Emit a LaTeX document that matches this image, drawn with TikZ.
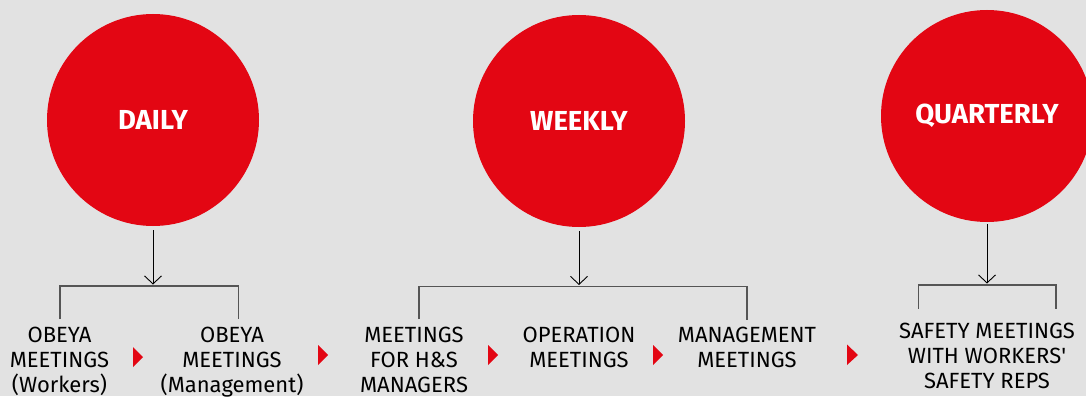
\documentclass[tikz,border=0pt]{standalone}
\usepackage{fontspec}
\setmainfont{Fira Sans}
\usepackage{xcolor}
\usetikzlibrary{arrows.meta,positioning}
\definecolor{meetred}{HTML}{E30613}
\definecolor{meetbg}{HTML}{E2E2E2}
\definecolor{meetgray}{HTML}{555555}

\begin{document}
\begin{tikzpicture}[
  x=1pt,y=-1pt,
  freq/.style={circle,fill=meetred,minimum size=212pt,inner sep=0pt,text=white,font=\fontsize{27.5}{30}\selectfont\bfseries},
  meet/.style={align=center,anchor=base,inner sep=0pt,font=\fontsize{22}{25}\selectfont},
  arr/.style={-{Straight Barb[length=8pt,width=17pt]},line width=0.9pt,shorten >=1.5pt},
  brk/.style={draw=meetgray,line width=1.3pt},
  tri/.style={fill=meetred}
]
\fill[meetbg] (0,0) rectangle (1086,396);
\useasboundingbox (0,0) rectangle (1086,396);
\node[freq] (daily) at (153,120) {DAILY};
\node[freq] (weekly) at (579,121) {WEEKLY};
\node[freq] (quarterly) at (987,116) {QUARTERLY};
\node[meet] (obw) at (59.5,392) {OBEYA\\MEETINGS\\(Workers)};
\node[meet] (obm) at (232,392) {OBEYA\\MEETINGS\\(Management)};
\node[meet] (hs) at (414,392) {MEETINGS\\FOR H\&S\\MANAGERS};
\node[meet] (op) at (579,367) {OPERATION\\MEETINGS};
\node[meet] (mgmt) at (747,367) {MANAGEMENT\\MEETINGS};
\node[meet] (reps) at (987,388) {SAFETY MEETINGS\\WITH WORKERS\textquotesingle\\SAFETY REPS};
\coordinate (dailyJ) at (153,286);
\coordinate (dailyL) at (60,319);
\coordinate (dailyR) at (238.5,319);
\coordinate (weeklyJ) at (579,286.5);
\coordinate (weeklyL) at (419,319);
\coordinate (weeklyR) at (747,319.5);
\coordinate (quarterlyJ) at (987,285);
\coordinate (quarterlyL) at (918.5,308.5);
\coordinate (quarterlyR) at (1056,308.5);
\draw[brk] (dailyL) |- (dailyJ) -| (dailyR);
\draw[brk] (weeklyL) |- (weeklyJ) -| (weeklyR);
\draw[brk] (quarterlyL) |- (quarterlyJ) -| (quarterlyR);
\draw[arr] ([yshift=-4pt]daily.south) -- (dailyJ);
\draw[arr] ([yshift=-4pt]weekly.south) -- (weeklyJ);
\draw[arr] ([yshift=-2pt]quarterly.south) -- (quarterlyJ);
\fill[tri] (133,347) -- (143,357) -- (133,367) -- cycle;
\fill[tri] (318,345) -- (328,355) -- (318,365) -- cycle;
\fill[tri] (488,345) -- (498,355) -- (488,365) -- cycle;
\fill[tri] (653,345) -- (663,355) -- (653,365) -- cycle;
\fill[tri] (847,344.5) -- (858,355) -- (847,365) -- cycle;
\end{tikzpicture}
\end{document}
